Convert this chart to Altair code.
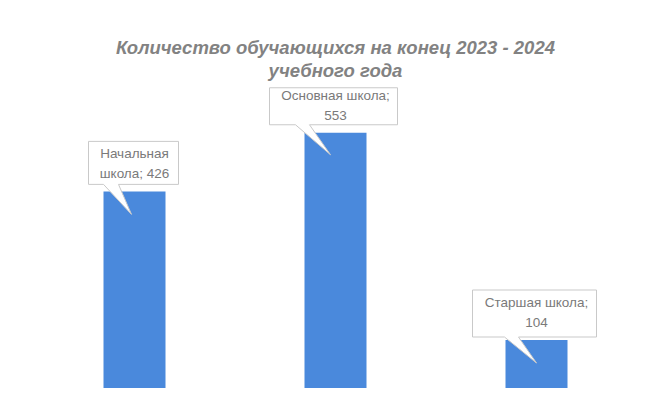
import altair as alt
import pandas as pd

categories = ["Начальная школа", "Основная школа", "Старшая школа"]
values = [426, 553, 104]
label_texts = ["Начальная\nшкола; 426", "Основная школа;\n553", "Старшая школа;\n104"]

df = pd.DataFrame({"cat": categories, "value": values, "label": label_texts})

# callout shapes (pixel coordinates relative to bar top centre; size=4 -> scale 1)
callouts = [
    "M-46,-50 L44,-50 L44,-7 L-16,-7 L-3,23 L-31,-7 L-46,-7 Z",
    "M-66,-45 L62,-45 L62,-8 L-26,-8 L-5,22 L-40,-8 L-66,-8 Z",
    "M-64,-50 L60,-50 L60,-3 L-18,-3 L0,23 L-32,-3 L-64,-3 Z",
]

x_enc = alt.X("cat:N", sort=categories,
              scale=alt.Scale(paddingInner=0, paddingOuter=0), axis=None)
y_enc = alt.Y("value:Q", scale=alt.Scale(domain=[0, 650], nice=False, zero=True), axis=None)

bars = alt.Chart(df).mark_bar(color="#4a89dc", width=62).encode(x=x_enc, y=y_enc)

boxes = alt.Chart(df).mark_point(
    filled=True, fill="white", stroke="#c9c9c9", strokeWidth=1, opacity=1, size=4
).encode(
    x=x_enc, y=y_enc,
    shape=alt.Shape("cat:N", scale=alt.Scale(domain=categories, range=callouts), legend=None),
)

texts = alt.Chart(df).mark_text(
    font="Liberation Sans", fontSize=13.5, color="#7a7a7a",
    lineBreak="\n", lineHeight=20, baseline="middle", align="center", dy=-37
).encode(x=x_enc, y=y_enc, text="label:N")

chart = alt.layer(bars, boxes, texts).properties(
    width=603, height=300,
    padding={"left": 26, "top": 80, "right": 3, "bottom": 9},
    autosize=alt.AutoSizeParams(type="none"),
    background="white",
    title=alt.TitleParams(
        text=["Количество обучающихся на конец 2023 - 2024", "учебного года"],
        font="Liberation Sans", fontSize=18.5, fontWeight="bold", fontStyle="italic",
        color="#828282", anchor="middle", offset=5, lineHeight=23,
    ),
).configure_view(stroke=None)

chart.save("out.html", embed_options={"renderer": "svg", "actions": False})
